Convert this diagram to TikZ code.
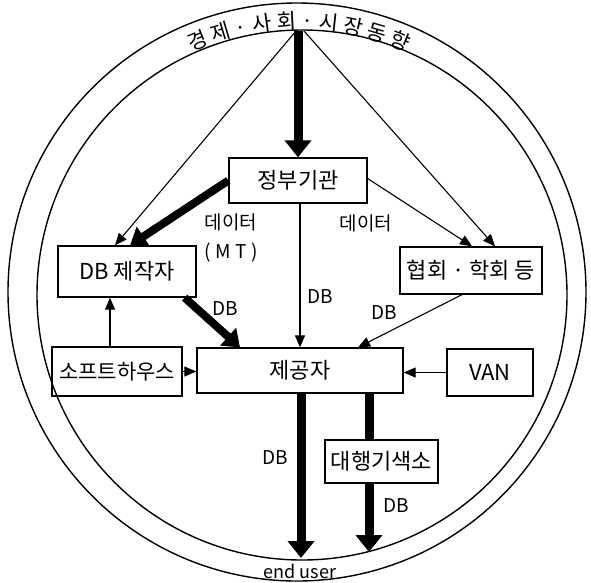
\documentclass[tikz,border=0pt]{standalone}
\usepackage{fontspec}
\setmainfont{Noto Sans CJK KR}
\usetikzlibrary{arrows.meta,decorations.text}
\begin{document}
\begin{tikzpicture}[x=1pt,y=-1pt,
  ring/.style={draw, line width=1.4pt},
  box/.style={draw, line width=1.3pt, inner sep=0pt, font=\fontsize{22}{22}\selectfont},
  lbl/.style={inner sep=0pt, font=\fontsize{19}{19}\selectfont},
  thinarrow/.style={line width=1.1pt, -{Triangle[width=10pt,length=12pt]}},
  thickarrow/.style={line width=9pt, -{Triangle[width=26pt,length=17pt]}},
  medarrow/.style={line width=8pt, -{Triangle[width=23pt,length=16pt]}},
  thickline/.style={line width=9pt}]
\useasboundingbox (0,0) rectangle (591,582);
% rings
\draw[ring] (297,292) circle[radius=289];
\draw[ring] (302,295) circle[radius=265];
% curved title
\path[decorate, decoration={text along path, text align=fit to path,
   text={|\fontsize{21}{21}\selectfont|경제·사회·시장동향}}]
   (299,294) ++(-114:265) arc[start angle=-114, end angle=-66, radius=265];
% boxes
\node[box, minimum width=138pt, minimum height=45pt] (gov) at (298,180.5) {정부기관};
\node[box, minimum width=138pt, minimum height=51pt] (dbm) at (127,271.5) {DB 제작자};
\node[box, minimum width=142pt, minimum height=47pt] (assoc) at (471,270.5) {협회 · 학회 등};
\node[box, minimum width=130pt, minimum height=49pt, font=\fontsize{21}{21}\selectfont] (soft) at (117,371.5) {소프트하우스};
\node[box, minimum width=206pt, minimum height=45pt] (prov) at (300,370.5) {제공자};
\node[box, minimum width=86pt, minimum height=47pt] (van) at (490,372.5) {VAN};
\node[box, minimum width=113pt, minimum height=43pt] (agent) at (381.5,461.5) {대행기색소};
% free ends
\coordinate (top) at (298,31);
\coordinate (eu1) at (301,558);
\coordinate (eu2) at (369,552);
% connectors
\draw[thickarrow] (top) -- (gov.north);
\draw[thinarrow] ([xshift=-2pt]top) -- ([xshift=-12pt]dbm.north);
\draw[thinarrow] ([xshift=6pt]top) -- ([xshift=24pt]assoc.north);
\draw[medarrow] (gov.west) -- ([xshift=3pt]dbm.north);
\draw[thinarrow] ([yshift=2pt]gov.east) -- ([xshift=1pt]assoc.north);
\draw[thinarrow] ([xshift=2pt]gov.south) -- (prov.north);
\draw[medarrow] ([xshift=-12pt]dbm.south east) -- ([xshift=-60pt]prov.north);
\draw[thinarrow] ([xshift=-9pt]assoc.south) -- ([xshift=58pt]prov.north);
\draw[thinarrow] ([xshift=-7pt]soft.north) -- ([xshift=-17pt]dbm.south);
\draw[thinarrow] (soft.east) -- (soft.east -| prov.west);
\draw[thinarrow] (van.west) -- (van.west -| prov.east);
\draw[thickarrow] ([xshift=1pt]prov.south) -- (eu1);
\draw[thickline] ([xshift=-12.5pt]agent.north |- prov.south) -- ([xshift=-12.5pt]agent.north);
\draw[thickarrow] ([xshift=-12.5pt]agent.south) -- (eu2);
% labels
\node[lbl] (d1) at (231,222) {데이터};
\node[lbl] (mt) at (231,253) {\addfontfeature{LetterSpace=25}(MT)};
\node[lbl] (d2) at (366,223) {데이터};
\node[lbl] (db1) at (225,309) {DB};
\node[lbl] (db2) at (320,297) {DB};
\node[lbl] (db3) at (384,313) {DB};
\node[lbl] (db4) at (275,458) {DB};
\node[lbl] (db5) at (396,506) {DB};
\node[lbl, font=\fontsize{18}{18}\selectfont] (eu) at (300,571) {end user};
\end{tikzpicture}
\end{document}
